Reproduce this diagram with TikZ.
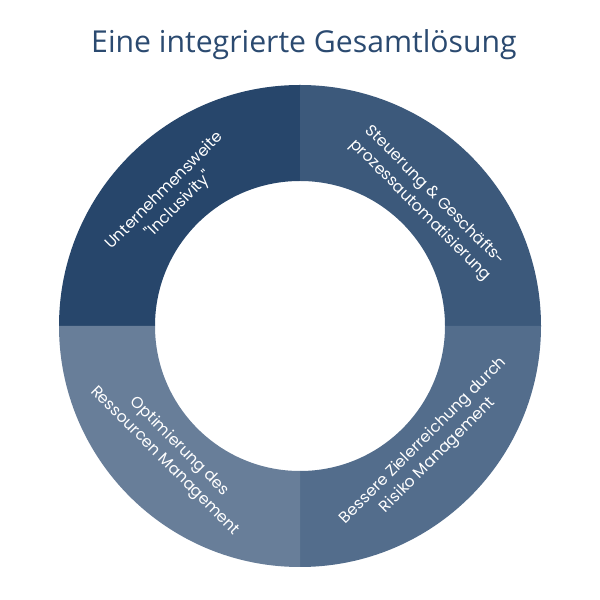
\documentclass[tikz,border=0pt]{standalone}
\usepackage{fontspec}
\setmainfont{Open Sans}
\newfontfamily\labelfont{Poppins}
\begin{document}
\begin{tikzpicture}[x=1pt,y=1pt,
  seg/.style={draw=none},
  lbl/.style={text=white,font=\labelfont\fontsize{15.8}{20.5}\selectfont,align=center,inner sep=0pt}]
\definecolor{qTL}{HTML}{27466B}
\definecolor{qTR}{HTML}{3C597B}
\definecolor{qBR}{HTML}{536D8C}
\definecolor{qBL}{HTML}{687E99}
\definecolor{titlecol}{HTML}{2B4A70}
\useasboundingbox (0,0) rectangle (600,600);
\coordinate (c) at (300,274);
\def\Ro{241}\def\Ri{145}
% quadrants
\fill[qTL,seg] ([shift={(90:\Ro)}]c) arc[start angle=90,end angle=180,radius=\Ro] -- ([shift={(180:\Ri)}]c) arc[start angle=180,end angle=90,radius=\Ri] -- cycle;
\fill[qTR,seg] ([shift={(0:\Ro)}]c) arc[start angle=0,end angle=90,radius=\Ro] -- ([shift={(90:\Ri)}]c) arc[start angle=90,end angle=0,radius=\Ri] -- cycle;
\fill[qBR,seg] ([shift={(-90:\Ro)}]c) arc[start angle=-90,end angle=0,radius=\Ro] -- ([shift={(0:\Ri)}]c) arc[start angle=0,end angle=-90,radius=\Ri] -- cycle;
\fill[qBL,seg] ([shift={(180:\Ro)}]c) arc[start angle=180,end angle=270,radius=\Ro] -- ([shift={(270:\Ri)}]c) arc[start angle=270,end angle=180,radius=\Ri] -- cycle;
% title
\node[anchor=base,text=titlecol,font=\fontsize{30.2}{36}\selectfont,inner sep=0pt] (title) at (304,547.5) {Eine integrierte Gesamtlösung};
% labels
\node[lbl,rotate=45] (tl) at ([shift={(135:181)}]c) {Unternehmensweite\\"Inclusivity"};
\node[lbl,rotate=-45] (tr) at ([shift={(44:177)}]c) {Steuerung \& Geschäfts-\\prozessautomatisierung};
\node[lbl,rotate=45] (br) at ([shift={(-43:179)}]c) {Bessere Zielerreichung durch\\Risiko Management};
\node[lbl,rotate=-45] (bl) at ([shift={(225:181)}]c) {Optimierung des\\Ressourcen Management};
\end{tikzpicture}
\end{document}
